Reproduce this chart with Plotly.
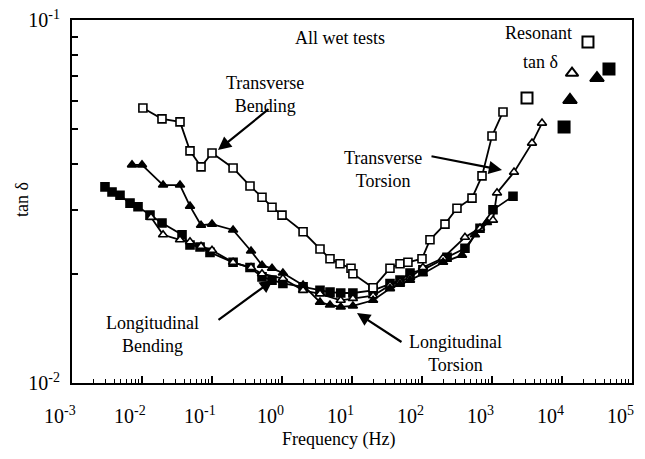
import math
import plotly.graph_objects as go

# ---------------- data ----------------
tb_f = [0.0103, 0.0193, 0.0349, 0.0485, 0.0697, 0.100, 0.200, 0.349, 0.518, 0.72,
        1.00, 2.00, 3.49, 4.85, 6.74, 9.68, 10.3, 20.0, 34.9, 48.5, 63.0, 100, 130,
        213, 316, 518, 720, 1000, 1436]
tb_t = [0.0572, 0.0534, 0.0524, 0.0436, 0.0394, 0.0430, 0.0391, 0.0349, 0.0325, 0.0305,
        0.0290, 0.0261, 0.0234, 0.0220, 0.0213, 0.0207, 0.0200, 0.0183, 0.0207, 0.0213,
        0.0215, 0.0220, 0.0248, 0.0274, 0.0303, 0.0323, 0.0372, 0.0479, 0.0558]

ft_f = [0.0072, 0.0100, 0.0200, 0.0349, 0.0485, 0.0697, 0.100, 0.200, 0.361, 0.518,
        0.72, 1.03, 2.00, 3.49, 4.85, 6.9, 10.3, 20.0, 34.9, 48.5, 67.4, 103, 200,
        373, 571, 848]
ft_t = [0.0399, 0.0399, 0.0351, 0.0351, 0.0307, 0.0272, 0.0274, 0.0264, 0.0231, 0.0211,
        0.0207, 0.0201, 0.0186, 0.0167, 0.0164, 0.0162, 0.0163, 0.0169, 0.0182, 0.0187,
        0.0192, 0.0200, 0.0215, 0.0225, 0.0256, 0.0277]

ot_f = [0.01345, 0.0200, 0.0349, 0.0485, 0.0697, 0.100, 0.200, 0.361, 0.518, 1.03,
        2.00, 3.49, 6.9, 10.3, 20.0, 34.9, 48.5, 67.4, 103, 200, 411, 674, 1033,
        1179, 2063, 3727, 5180]
ot_t = [0.0286, 0.0256, 0.0248, 0.0245, 0.0238, 0.0232, 0.0215, 0.0208, 0.0200, 0.0194,
        0.0180, 0.0176, 0.0169, 0.0171, 0.0174, 0.0186, 0.0190, 0.0195, 0.0208, 0.0221,
        0.0252, 0.0267, 0.0281, 0.0334, 0.0381, 0.0458, 0.0520]

fs_f = [0.00296, 0.00373, 0.00485, 0.00674, 0.00877, 0.0130, 0.0193, 0.0373, 0.0485,
        0.0675, 0.0936, 0.200, 0.349, 0.518, 0.72, 1.03, 2.00, 3.49, 4.85, 6.9, 10.3,
        20.0, 34.9, 48.5, 67.4, 103, 228, 411, 674, 1033, 1995]
fs_t = [0.0347, 0.0336, 0.0329, 0.0313, 0.0306, 0.0290, 0.0276, 0.0256, 0.0240,
        0.0237, 0.0229, 0.0215, 0.0208, 0.0196, 0.0192, 0.0188, 0.0184, 0.0180, 0.0178,
        0.0177, 0.0177, 0.0180, 0.0188, 0.0192, 0.0201, 0.0205, 0.0222, 0.0235, 0.0267,
        0.0300, 0.0327]

# resonant tan delta points
res_os_f = [3162, 23500]
res_os_t = [0.0610, 0.0870]
res_ot_f = [13900]
res_ot_t = [0.0714]
res_ft_f = [13000, 31600]
res_ft_t = [0.0602, 0.0692]
res_fs_f = [10700, 46900]
res_fs_t = [0.0507, 0.0733]

x_tick_vals = [1e-3, 1e-2, 1e-1, 1e0, 1e1, 1e2, 1e3, 1e4, 1e5]
x_tick_text = ["10<sup>-3</sup>", "10<sup>-2</sup>", "10<sup>-1</sup>", "10<sup>0</sup>",
               "10<sup>1</sup>", "10<sup>2</sup>", "10<sup>3</sup>", "10<sup>4</sup>",
               "10<sup>5</sup>"]
y_tick_vals = [0.01, 0.1]
y_tick_text = ["10<sup>-2</sup>", "10<sup>-1</sup>"]

# ---------------- figure ----------------
FONT = "Liberation Serif, Times New Roman, serif"
fig = go.Figure()

def add_curve(fx, ty, symbol, fill):
    fig.add_trace(go.Scatter(
        x=fx, y=ty, mode="lines+markers",
        line=dict(color="black", width=1.8),
        marker=dict(symbol=symbol, size=8, color=fill,
                    line=dict(color="black", width=1.6)),
        showlegend=False, cliponaxis=False))

def add_points(fx, ty, symbol, fill, size):
    fig.add_trace(go.Scatter(
        x=fx, y=ty, mode="markers",
        marker=dict(symbol=symbol, size=size, color=fill,
                    line=dict(color="black", width=2)),
        showlegend=False, cliponaxis=False))

add_curve(fs_f, fs_t, "square", "black")
add_curve(ot_f, ot_t, "triangle-up", "white")
add_curve(ft_f, ft_t, "triangle-up", "black")
add_curve(tb_f, tb_t, "square", "white")

add_points(res_os_f, res_os_t, "square", "white", 11)
add_points(res_ot_f, res_ot_t, "triangle-up", "white", 11)
add_points(res_ft_f, res_ft_t, "triangle-up", "black", 12)
add_points(res_fs_f, res_fs_t, "square", "black", 11)

x_minor = [m * 10.0 ** e for e in range(-3, 5) for m in range(2, 10)]
y_minor = [m * 0.01 for m in range(2, 10)]

fig.update_xaxes(
    type="log", range=[-3, 5], automargin=False,
    tickmode="array", tickvals=x_tick_vals, ticktext=x_tick_text,
    showticklabels=False,
    ticks="inside", ticklen=7, tickwidth=1.5, tickcolor="black",
    minor=dict(tickmode="array", tickvals=x_minor, ticks="inside", ticklen=4,
               tickwidth=1.2, tickcolor="black", showgrid=False),
    showline=True, linecolor="black", linewidth=2, mirror=True,
    showgrid=False, zeroline=False,
)
fig.update_yaxes(
    type="log", range=[-2, -1], automargin=False,
    tickmode="array", tickvals=y_tick_vals, ticktext=y_tick_text,
    ticks="inside", ticklen=7, tickwidth=1.5, tickcolor="black",
    ticklabelstandoff=6,
    minor=dict(tickmode="array", tickvals=y_minor, ticks="inside", ticklen=6,
               tickwidth=1.5, tickcolor="black", showgrid=False),
    showline=True, linecolor="black", linewidth=2, mirror=True,
    showgrid=False, zeroline=False,
    tickfont=dict(family=FONT, size=20, color="black"),
)

L, R, T, B = 72, 13, 20, 76
W, H = 645, 459
PW, PH = W - L - R, H - T - B

def paper(px, py):
    return (px - L) / PW, (H - B - py) / PH

annots = []
# x tick labels placed on the axis scale, slightly left of each tick
_, label_y = paper(0, 415)
for v, s in zip(x_tick_vals, x_tick_text):
    annots.append(dict(x=math.log10(v), y=label_y, xref="x", yref="paper", text=s,
                       showarrow=False, xanchor="center", yanchor="middle", xshift=-12,
                       font=dict(family=FONT, size=20, color="black")))

def text(px, py, s, align="center", size=18, angle=0):
    x, y = paper(px, py)
    annots.append(dict(x=x, y=y, xref="paper", yref="paper", text=s, showarrow=False,
                       xanchor="center", yanchor="middle", align=align, textangle=angle,
                       font=dict(family=FONT, size=size, color="black")))

def arrow(tx, ty, sx, sy):
    x, y = paper(tx, ty)
    annots.append(dict(x=x, y=y, xref="paper", yref="paper", text="", showarrow=True,
                       ax=sx - tx, ay=sy - ty, axref="pixel", ayref="pixel",
                       xanchor="center", yanchor="middle",
                       arrowhead=2, arrowsize=1.2, arrowwidth=2.2, arrowcolor="black"))

text(338, 440, "Frequency (Hz)")
text(22, 200, "tan δ", angle=-90)
text(340, 38, "All wet tests")
text(538, 33, "Resonant")
text(540, 62, "tan δ")
text(265, 95, "Transverse<br>Bending")
arrow(218, 150, 270, 108)
text(383, 170, "Transverse<br>Torsion", align="center")
arrow(502, 170, 430, 156)
text(152, 334, "Longitudinal<br>Bending")
arrow(273, 280, 217, 321)
text(455, 353, "Longitudinal<br>Torsion")
arrow(357, 313, 403, 343)

fig.update_layout(
    width=W, height=H, margin=dict(l=L, r=R, t=T, b=B),
    plot_bgcolor="white", paper_bgcolor="white",
    annotations=annots, font=dict(family=FONT, color="black"),
)

fig.write_html("out.html")
